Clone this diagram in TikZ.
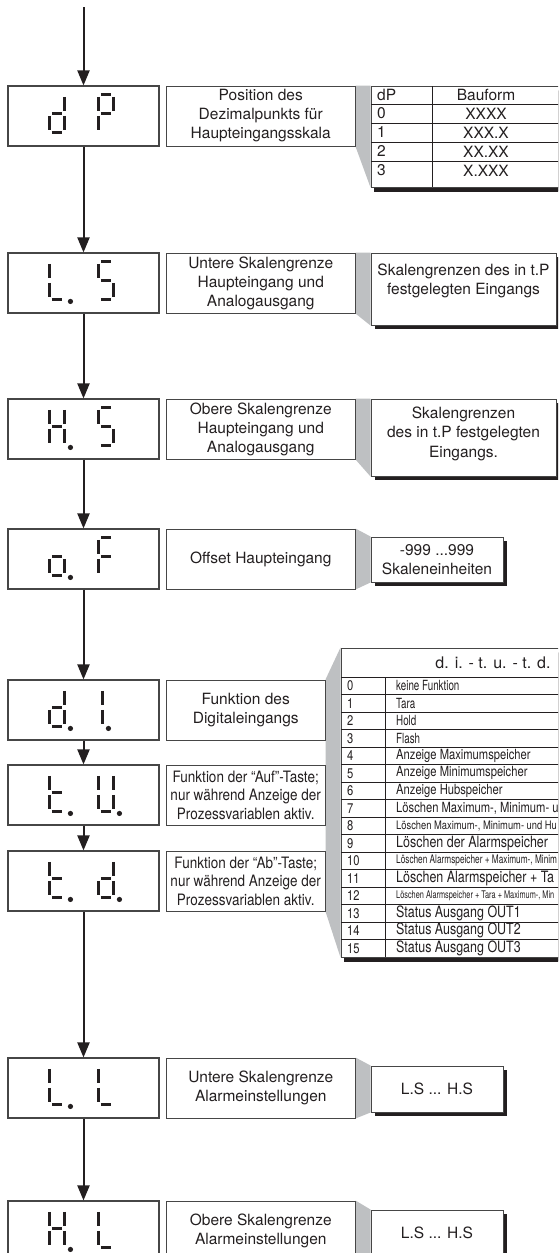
\documentclass[tikz,border=0pt]{standalone}
\usepackage{fontspec}
\setmainfont{TeX Gyre Heros}
\newfontfamily\narrowfont[FakeStretch=0.8]{TeX Gyre Heros}
\newfontfamily\tightfont[FakeStretch=0.7]{TeX Gyre Heros}
\newfontfamily\midfont[FakeStretch=0.86]{TeX Gyre Heros}
\usetikzlibrary{shapes,arrows.meta,positioning,shadows,backgrounds}
\definecolor{wedgegray}{RGB}{190,192,194}
\definecolor{framegray}{RGB}{70,70,70}
\definecolor{inkblack}{RGB}{35,31,32}

\newcommand{\rowA}{\tightfont\fontsize{14}{16}\selectfont}
\newcommand{\rowB}{\narrowfont\fontsize{14}{16}\selectfont}
\newcommand{\rowL}{\narrowfont\fontsize{15.6}{17}\selectfont}
\newcommand{\rowS}{\narrowfont\fontsize{11.7}{13}\selectfont}
\newcommand{\rowT}{\tightfont\fontsize{11.8}{13}\selectfont}
\newcommand{\rowU}{\tightfont\fontsize{10.5}{12}\selectfont}

\tikzstyle{dispbox} = [draw=framegray, line width=1.1pt, minimum width=151pt, minimum height=60pt, inner sep=0pt]
\tikzstyle{descbox} = [draw=framegray, line width=1pt, minimum width=188.5pt, minimum height=60pt, inner sep=0pt, align=center, text=inkblack, font=\fontsize{15.5}{19}\selectfont]
\tikzstyle{narrowbox} = [descbox, minimum width=158.5pt]
\tikzstyle{resbox} = [draw=framegray, fill=white, line width=1pt, inner sep=0pt, align=center, text=inkblack, font=\fontsize{15.5}{19.5}\selectfont, drop shadow={shadow xshift=4pt, shadow yshift=-4pt, opacity=1, fill=inkblack}]
\tikzstyle{restext} = [inner sep=0pt, align=center, text=inkblack, font=\fontsize{15.5}{19.5}\selectfont]
\tikzstyle{tabbox} = [resbox, drop shadow={shadow xshift=3pt, shadow yshift=-5pt, opacity=1, fill=inkblack}]
\tikzstyle{celltext} = [anchor=west, inner sep=0pt, text=inkblack]
\tikzstyle{flow} = [draw=inkblack, line width=2pt, -{Triangle[length=15pt,width=12pt]}]
\tikzstyle{seg} = [draw=inkblack, line width=2.3pt]
\tikzstyle{wedge} = [fill=wedgegray]
\tikzstyle{rule} = [draw=inkblack, line width=0.8pt]

% seven segment pieces, digit 15 x 38
\newcommand{\sega}{\draw[seg] (2.5,0) -- (12.5,0);}
\newcommand{\segb}{\draw[seg] (15,2.5) -- (15,16.5);}
\newcommand{\segc}{\draw[seg] (15,21.5) -- (15,35.5);}
\newcommand{\segd}{\draw[seg] (2.5,38) -- (12.5,38);}
\newcommand{\sege}{\draw[seg] (0,21.5) -- (0,35.5);}
\newcommand{\segf}{\draw[seg] (0,2.5) -- (0,16.5);}
\newcommand{\segg}{\draw[seg] (2.5,19) -- (12.5,19);}
\newcommand{\segdigit}[4]{%
  \begin{scope}[shift={(#1.north west)}, shift={(#2,9)}]
    \foreach \s in {#3} {\csname seg\s\endcsname}
    \ifnum#4=1 \fill[inkblack] (21,40) circle (2.6); \fi
  \end{scope}}

\begin{document}
\begin{tikzpicture}[x=1pt,y=-1pt]
\useasboundingbox (0,0) rectangle (558,1253);
\clip (0,0) rectangle (558,1253);

% displays
\coordinate (start) at (83.5,7);
\node [dispbox] (dP) at (83.5,116) {};
\node [dispbox] (LS) at (83.5,283) {};
\node [dispbox] (HS) at (83.5,429) {};
\node [dispbox] (oF) at (83.5,559) {};
\node [dispbox] (di) at (83.5,710) {};
\node [dispbox] (tu) at (83.5,795) {};
\node [dispbox] (td) at (83.5,881) {};
\node [dispbox] (LL) at (83.5,1088) {};
\node [dispbox] (HL) at (83.5,1231) {};

\segdigit{dP}{42}{b,c,d,e,g}{0}
\segdigit{dP}{91}{a,b,e,f,g}{0}
\segdigit{LS}{42}{d,e,f}{1}
\segdigit{LS}{91}{a,f,g,c,d}{0}
\segdigit{HS}{42}{b,c,e,f,g}{1}
\segdigit{HS}{91}{a,f,g,c,d}{0}
\segdigit{oF}{42}{c,d,e,g}{1}
\segdigit{oF}{91}{a,e,f,g}{0}
\segdigit{di}{42}{b,c,d,e,g}{1}
\segdigit{di}{80}{b,c}{1}
\segdigit{tu}{42}{d,e,f,g}{1}
\segdigit{tu}{91}{b,c,d,e,f}{1}
\segdigit{td}{42}{d,e,f,g}{1}
\segdigit{td}{91}{b,c,d,e,g}{1}
\segdigit{LL}{42}{d,e,f}{1}
\segdigit{LL}{91}{d,e,f}{0}
\segdigit{HL}{42}{b,c,e,f,g}{1}
\segdigit{HL}{91}{d,e,f}{0}

% descriptions
\node [descbox] (dP-txt) at (260.75,116) {Position des\\Dezimalpunkts für\\Haupteingangsskala};
\node [descbox] (LS-txt) at (260.75,283) {Untere Skalengrenze\\Haupteingang und\\Analogausgang};
\node [descbox] (HS-txt) at (260.75,429) {Obere Skalengrenze\\Haupteingang und\\Analogausgang};
\node [descbox] (oF-txt) at (260.75,559) {Offset Haupteingang};
\node [narrowbox] (di-txt) at (245.75,710) {Funktion des\\Digitaleingangs};
\node [narrowbox, font=\midfont\fontsize{15.7}{18.5}\selectfont] (tu-txt) at (245.75,795) {Funktion der “Auf”-Taste;\\nur während Anzeige der\\Prozessvariablen aktiv.};
\node [narrowbox, font=\midfont\fontsize{15.7}{18.5}\selectfont] (td-txt) at (245.75,881) {Funktion der “Ab”-Taste;\\nur während Anzeige der\\Prozessvariablen aktiv.};
\node [descbox] (LL-txt) at (260.75,1088) {Untere Skalengrenze\\Alarmeinstellungen};
\node [descbox] (HL-txt) at (260.75,1231) {Obere Skalengrenze\\Alarmeinstellungen};

% values
\node [tabbox, minimum width=189pt, minimum height=101pt] (dP-tab) at (465.5,136.5) {};
\node [resbox, minimum width=185pt, minimum height=72pt] (LS-res) at (463.5,289) {};
\node [restext, below=11pt of LS-res.north] (LS-val) {Skalengrenzen des in t.P\\festgelegten Eingangs};
\node [resbox, minimum width=185pt, minimum height=77pt] (HS-res) at (463.5,437.5) {};
\node [restext, below=8pt of HS-res.north] (HS-val) {Skalengrenzen\\des in t.P festgelegten\\Eingangs.};
\node [resbox, minimum width=132pt, minimum height=45pt] (oF-res) at (437,559.5) {-999 ...999\\Skaleneinheiten};
\node [tabbox, minimum width=304pt, minimum height=309pt] (di-tab) at (493,802.5) {};
\node [resbox, minimum width=132pt, minimum height=46pt] (LL-res) at (437,1089) {L.S ... H.S};
\node [resbox, minimum width=132pt, minimum height=46pt] (HL-res) at (437,1233) {L.S ... H.S};

% table dP
\foreach \y in {104,123,142,161}
  \draw [rule] (371,\y) -- (560,\y);
\draw [rule] (432,86) -- (432,187);
\node [celltext, font=\fontsize{15.5}{17}\selectfont] (dP-h1) at (377,95) {dP};
\node [inner sep=0pt, text=inkblack, font=\fontsize{15.5}{17}\selectfont] (dP-h2) at (486,95) {Bauform};
\foreach \n/\v in {0/XXXX, 1/XXX.X, 2/XX.XX, 3/X.XXX} {
  \node [celltext, font=\fontsize{15.5}{17}\selectfont] (dP-n\n) at (377,{113.5+19*\n}) {\n};
  \node [inner sep=0pt, text=inkblack, font=\fontsize{15.5}{17}\selectfont] (dP-v\n) at (486,{113.5+19*\n}) {\v};
}

% table d.i. - t.u. - t.d.
\node [inner sep=0pt, text=inkblack, font=\fontsize{16}{18}\selectfont] (di-head) at (493,662.5) {d. i. - t. u. - t. d.};
\foreach \k in {0,...,15}
  \draw [rule] (341,{677+17.5*\k}) -- (660,{677+17.5*\k});
\draw [rule] (385,677) -- (385,957);
\foreach \n/\f/\t in {0/\rowA/keine Funktion, 1/\rowA/Tara, 2/\rowA/Hold, 3/\rowA/Flash,
    4/\rowB/Anzeige Maximumspeicher, 5/\rowB/Anzeige Minimumspeicher, 6/\rowB/Anzeige Hubspeicher,
    7/\rowB/{Löschen Maximum-, Minimum- u}, 8/\rowS/{Löschen Maximum-, Minimum- und Hu},
    9/\rowL/Löschen der Alarmspeicher, 10/\rowT/{Löschen Alarmspeicher + Maximum-, Minim},
    11/\rowL/Löschen Alarmspeicher + Ta, 12/\rowU/{Löschen Alarmspeicher + Tara + Maximum-, Min},
    13/\rowL/Status Ausgang OUT1, 14/\rowL/Status Ausgang OUT2, 15/\rowL/Status Ausgang OUT3} {
  \node [celltext, font=\rowB] (di-n\n) at (347,{685.75+17.5*\n}) {\n};
  \node [celltext, font=\f] (di-t\n) at (396,{685.75+17.5*\n}) {\t};
}

% gray wedges
\begin{scope}[on background layer]
  \fill [wedge] (dP-txt.north east) -- (dP-tab.north west) -- (dP-tab.south west) -- (dP-txt.south east) -- cycle;
  \fill [wedge] (LS-txt.north east) -- (LS-res.north west) -- (LS-res.south west) -- (LS-txt.south east) -- cycle;
  \fill [wedge] (HS-txt.north east) -- (HS-res.north west) -- (HS-res.south west) -- (HS-txt.south east) -- cycle;
  \fill [wedge] (oF-txt.north east) -- (oF-res.north west) -- (oF-res.south west) -- (oF-txt.south east) -- cycle;
  \fill [wedge] (di-txt.north east) -- (di-tab.north west) -- (di-tab.south west) -- (td-txt.south east) -- cycle;
  \fill [wedge] (LL-txt.north east) -- (LL-res.north west) -- (LL-res.south west) -- (LL-txt.south east) -- cycle;
  \fill [wedge] (HL-txt.north east) -- (HL-res.north west) -- (HL-res.south west) -- (HL-txt.south east) -- cycle;
\end{scope}

% flow
\draw [flow] (start) -- (dP.north);
\draw [flow] (dP.south) -- (LS.north);
\draw [flow] (LS.south) -- (HS.north);
\draw [flow] (HS.south) -- (oF.north);
\draw [flow] (oF.south) -- (di.north);
\draw [flow] (di.south) -- (tu.north);
\draw [flow] (tu.south) -- (td.north);
\draw [flow] (td.south) -- (LL.north);
\draw [flow] (LL.south) -- (HL.north);
\end{tikzpicture}
\end{document}
